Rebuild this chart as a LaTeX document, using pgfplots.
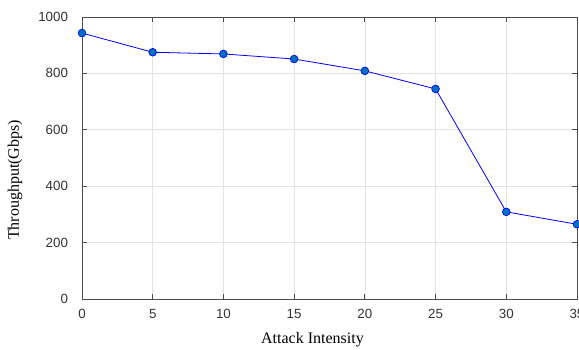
\documentclass[border=0pt]{standalone}
\usepackage{pgfplots}
\pgfplotsset{compat=1.18}
\usepackage{fontspec}
\setmainfont{Liberation Serif}
\newfontfamily\arialfont{Liberation Sans}
\definecolor{mkfill}{rgb}{0,0.447,0.741}
\begin{document}
\begin{tikzpicture}[x=0.75pt,y=0.75pt]
\useasboundingbox (-82,-51) rectangle (497,299);
\begin{axis}[
  at={(0,0)}, anchor=south west,
  scale only axis, width=371.25pt, height=211.5pt,
  xmin=0, xmax=35, ymin=0, ymax=1000,
  xtick={0,5,...,35}, ytick={0,200,...,1000},
  grid=major,
  grid style={gray!22, line width=0.5pt},
  axis line style={black!70, line width=0.6pt},
  tick style={black!70, line width=0.6pt},
  tick align=inside,
  major tick length=4pt,
  tick label style={font=\arialfont\fontsize{10}{12}\selectfont, text=black!80},
  xticklabel style={yshift=-4pt},
  yticklabel style={xshift=-7pt},
  /pgf/number format/assume math mode=true,
  /pgf/number format/1000 sep={},
  xlabel={Attack Intensity},
  ylabel={Throughput(Gbps)},
  label style={font=\fontsize{12}{14}\selectfont},
  xlabel style={at={(axis description cs:0.4657,0)}, anchor=center, yshift=-30.75pt},
  ylabel style={at={(axis description cs:0,0.422)}, anchor=center, rotate=0, yshift=50.25pt},
  clip=false,
]
\addplot[blue, line width=0.6pt, mark=*, mark size=2.9pt, mark options={fill=mkfill, draw=blue, line width=0.5pt}]
  coordinates {(0,943) (5,875) (10,869) (15,851) (20,809) (25,745) (30,309) (35,265)};
\end{axis}
\end{tikzpicture}
\end{document}
